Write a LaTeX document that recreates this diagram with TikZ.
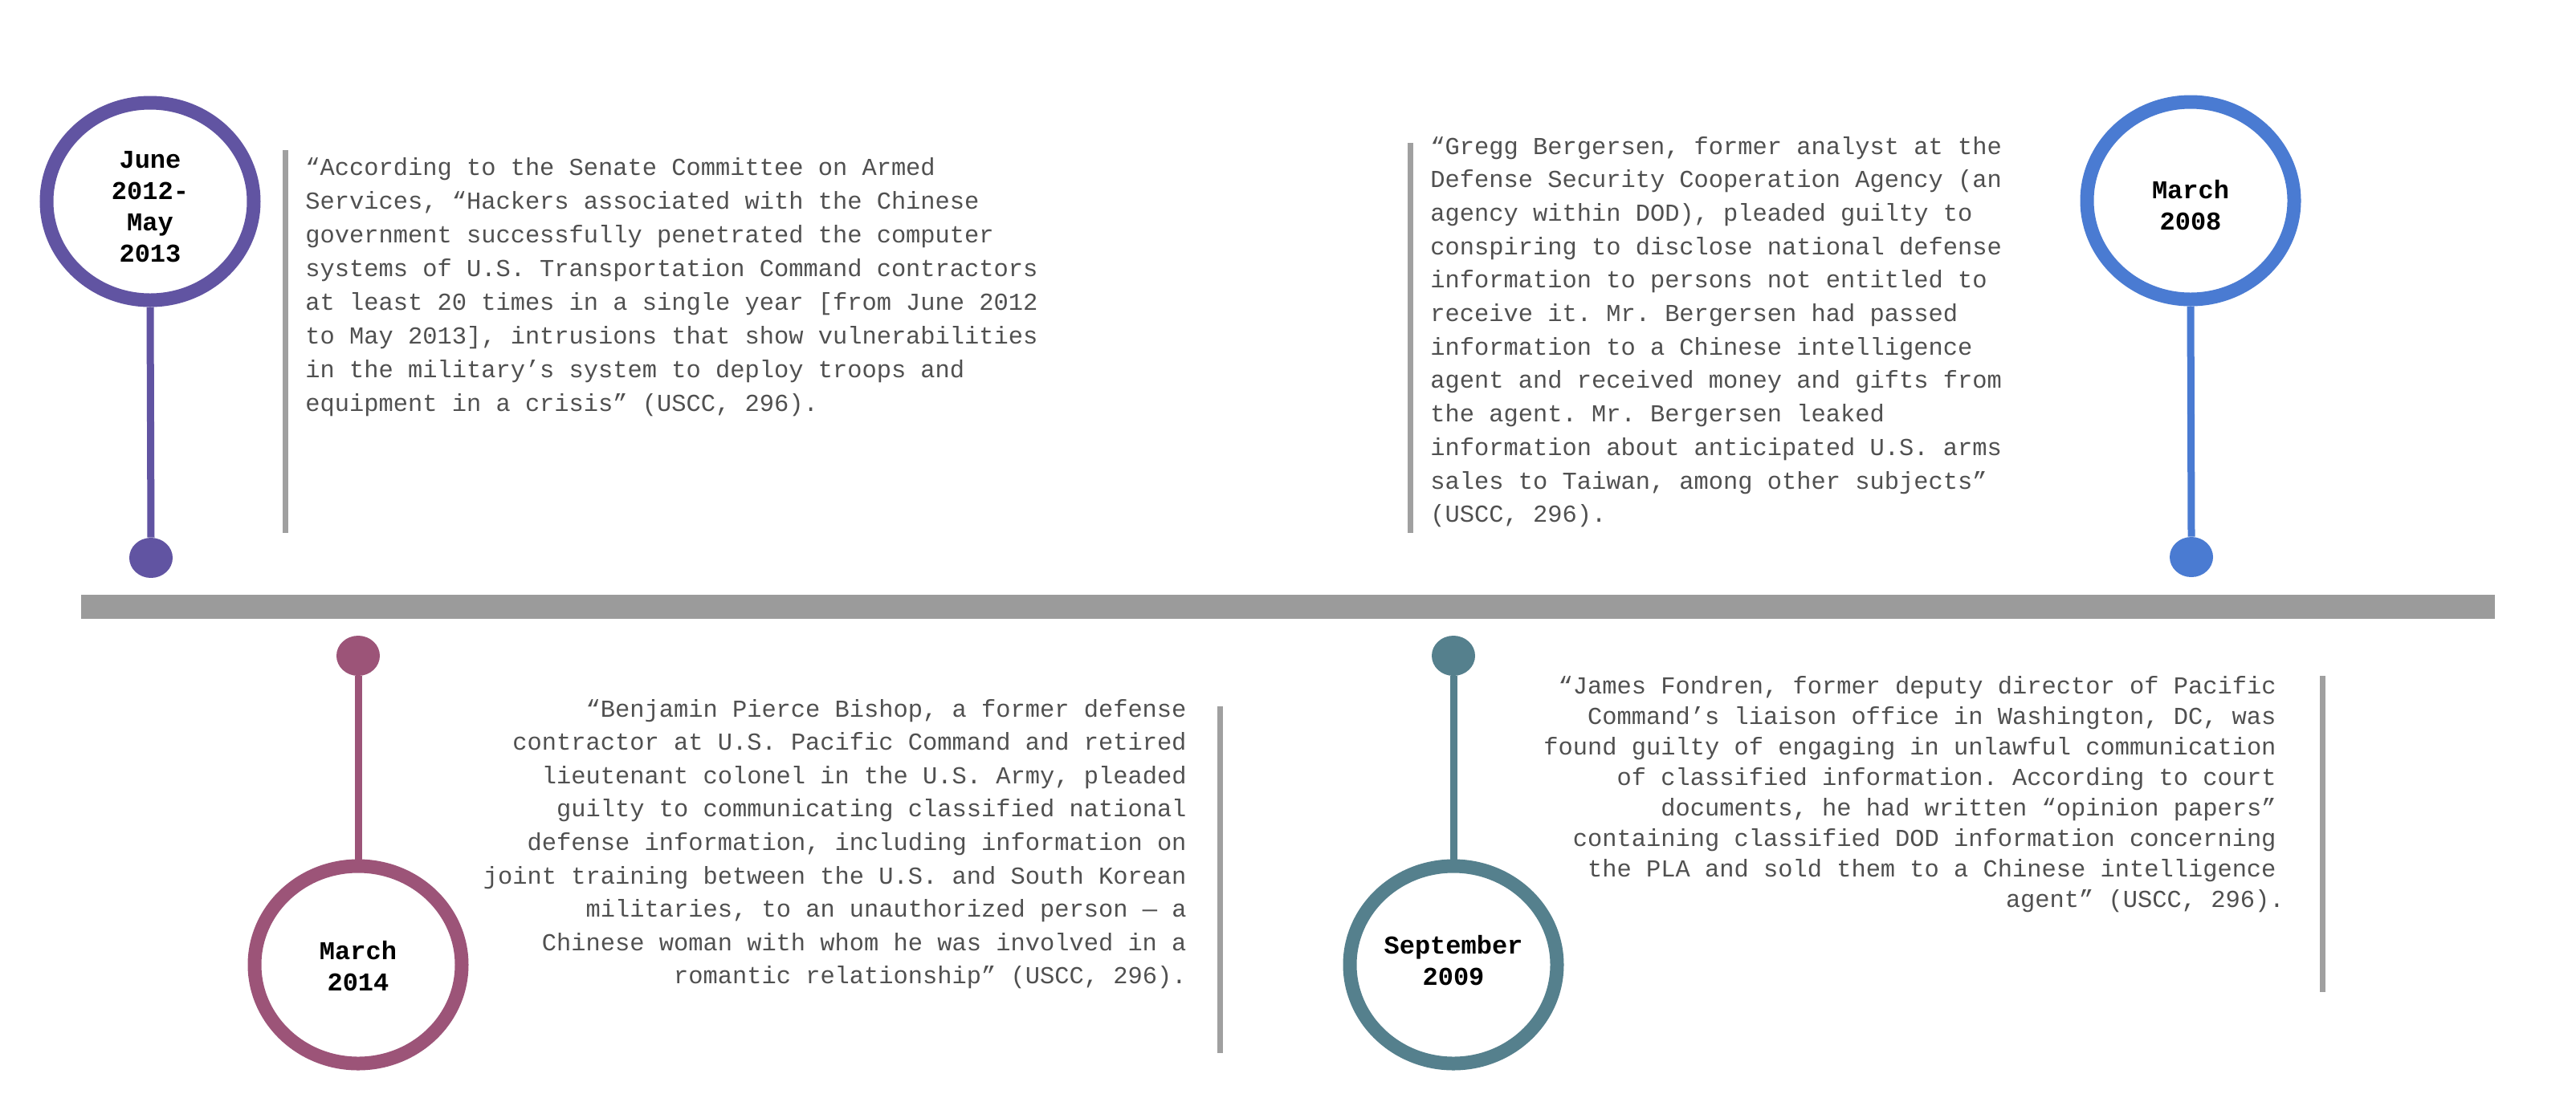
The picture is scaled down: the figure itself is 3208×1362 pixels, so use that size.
\documentclass[tikz,border=0pt]{standalone}
\usepackage{fontspec}
\newfontfamily\bodymono{Liberation Mono}
\usetikzlibrary{shapes.geometric}
\definecolor{cpurple}{RGB}{97,84,162}
\definecolor{cblue}{RGB}{74,123,210}
\definecolor{cpink}{RGB}{156,84,120}
\definecolor{cteal}{RGB}{85,128,141}
\definecolor{bargrey}{RGB}{155,155,155}
\definecolor{sidegrey}{RGB}{160,160,160}
\definecolor{textgrey}{RGB}{80,80,80}
\newcommand\myquotefont[1]{\bodymono\fontsize{15.2pt}{#1}\selectfont}
\newcommand\mydatefont{\bodymono\bfseries\fontsize{16pt}{19.5pt}\selectfont}
\newcommand\monospaces{\spaceskip=9.12pt\relax\xspaceskip=9.12pt\relax}
\tikzset{
  ring/.style={ellipse, draw=#1, line width=8.5pt, minimum width=129pt, minimum height=123pt, inner sep=0pt},
  knob/.style={ellipse, fill=#1, minimum width=27pt, minimum height=25pt, inner sep=0pt},
  stem/.style={draw=#1, line width=4.5pt},
  datelabel/.style={font=\mydatefont, align=center, text width=150pt, anchor=base, inner sep=0pt, text=black},
  quotebase/.style={font={\myquotefont{#1}}, text=textgrey, text width=480pt, inner sep=0pt, execute at begin node=\monospaces},
  quoteL/.style={quotebase=#1, align=left, anchor=base west},
  quoteR/.style={quotebase=#1, align=right, anchor=base east},
  sidebar/.style={draw=sidegrey, line width=3.5pt},
}
\begin{document}
\begin{tikzpicture}[x=0.5pt,y=-0.5pt]
\useasboundingbox[fill=white] (0,0) rectangle (3208,1362);
% main timeline bar
\fill[bargrey] (101,741) rectangle (3107,771);

% ---- June 2012 - May 2013 (purple, top left)
\node[ring=cpurple] (c1) at (187,251) {};
\node[knob=cpurple] (d1) at (188,695) {};
\draw[stem=cpurple] (c1.south) -- (d1.north);
\node[datelabel] (t1) at (187,209) {June\\2012-\\May\\2013};
\draw[sidebar] (355,187) -- (355,664);
\node[quoteL=21pt] (q1) at (380,218) {“According to the Senate Committee on Armed\\
Services, “Hackers associated with the Chinese\\
government successfully penetrated the computer\\
systems of U.S. Transportation Command contractors\\
at least 20 times in a single year [from June 2012\\
to May 2013], intrusions that show vulnerabilities\\
in the military’s system to deploy troops and\\
equipment in a crisis” (USCC, 296).};

% ---- March 2008 (blue, top right)
\node[ring=cblue] (c2) at (2728,250) {};
\node[knob=cblue] (d2) at (2729,694) {};
\draw[stem=cblue] (c2.south) -- (d2.north);
\node[datelabel] (t2) at (2728,247) {March\\2008};
\draw[sidebar] (1756,178) -- (1756,664);
\node[quoteL=20.85pt] (q2) at (1781,192) {“Gregg Bergersen, former analyst at the\\
Defense Security Cooperation Agency (an\\
agency within DOD), pleaded guilty to\\
conspiring to disclose national defense\\
information to persons not entitled to\\
receive it. Mr. Bergersen had passed\\
information to a Chinese intelligence\\
agent and received money and gifts from\\
the agent. Mr. Bergersen leaked\\
information about anticipated U.S. arms\\
sales to Taiwan, among other subjects”\\
(USCC, 296).};

% ---- March 2014 (pink, bottom left)
\node[knob=cpink] (d3) at (446,817) {};
\node[ring=cpink] (c3) at (446,1202) {};
\draw[stem=cpink] (d3.south) -- (c3.north);
\node[datelabel] (t3) at (446,1195) {March\\2014};
\draw[sidebar] (1519,880) -- (1519,1312);
\node[quoteR=20.8pt] (q3) at (1478,893) {“Benjamin Pierce Bishop, a former defense\\
contractor at U.S. Pacific Command and retired\\
lieutenant colonel in the U.S. Army, pleaded\\
guilty to communicating classified national\\
defense information, including information on\\
joint training between the U.S. and South Korean\\
militaries, to an unauthorized person — a\\
Chinese woman with whom he was involved in a\\
romantic relationship” (USCC, 296).};

% ---- September 2009 (teal, bottom middle)
\node[knob=cteal] (d4) at (1810,817) {};
\node[ring=cteal] (c4) at (1810,1202) {};
\draw[stem=cteal] (d4.south) -- (c4.north);
\node[datelabel] (t4) at (1810,1188) {September\\2009};
\draw[sidebar] (2892,842) -- (2892,1236);
\node[quoteR=19pt] (q4) at (2835,864) {“James Fondren, former deputy director of Pacific\\
Command’s liaison office in Washington, DC, was\\
found guilty of engaging in unlawful communication\\
of classified information. According to court\\
documents, he had written “opinion papers”\\
containing classified DOD information concerning\\
the PLA and sold them to a Chinese intelligence\\
agent” (USCC, 296).\hspace*{-5pt}};
\end{tikzpicture}
\end{document}
